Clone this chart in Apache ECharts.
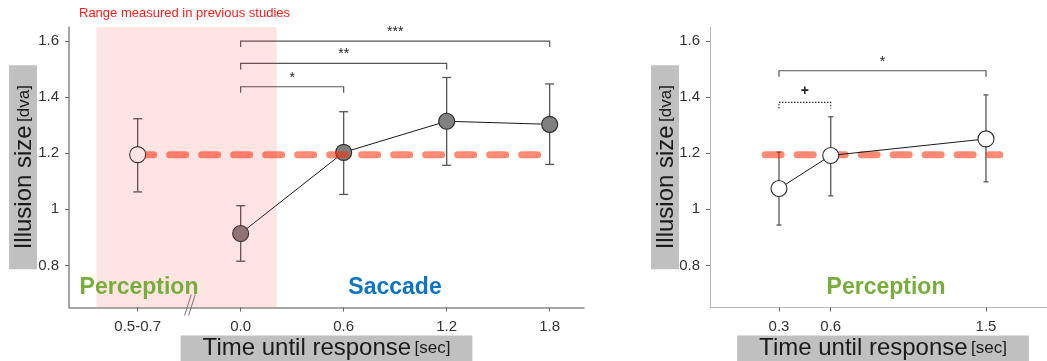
<!DOCTYPE html>
<html><head><meta charset="utf-8">
<script src="https://cdn.jsdelivr.net/npm/echarts@6/dist/echarts.min.js"></script>
<style>html,body{margin:0;padding:0;background:#fff}#c{width:1047px;height:361px}</style>
</head><body><div id="c"></div>
<script>
// ---- data ----
const yTickValues = [0.8, 1, 1.2, 1.4, 1.6];
const yTickLabels = ['0.8', '1', '1.2', '1.4', '1.6'];

const leftTickValues = [-0.6, 0, 0.6, 1.2, 1.8];
const leftTickLabels = ['0.5-0.7', '0.0', '0.6', '1.2', '1.8'];
const leftMean  = [1.195, 0.914, 1.203, 1.314, 1.303];
const leftUpper = [1.323, 1.013, 1.348, 1.470, 1.447];
const leftLower = [1.062, 0.815, 1.053, 1.157, 1.160];

const rightTickValues = [0.3, 0.6, 1.5];
const rightTickLabels = ['0.3', '0.6', '1.5'];
const rightMean  = [1.074, 1.192, 1.251];
const rightUpper = [1.204, 1.330, 1.408];
const rightLower = [0.944, 1.048, 1.098];

const baselineValue = 1.195;
const leftBaselineSpan = [-0.6, 1.8];
const rightBaselineSpan = [0.22, 1.58];
const previousRange = [-0.84, 0.21];
const breakAt = -0.3;

const leftSigFrom = [0, 0, 0];
const leftSigTo   = [0.6, 1.2, 1.8];
const leftSigY    = [1.437, 1.52, 1.60];
const leftSigText = ['*', '**', '***'];

const rightSigFrom = [0.3, 0.3];
const rightSigTo   = [0.6, 1.5];
const rightSigY    = [1.381, 1.494];
const rightSigText = ['+', '*'];
const rightSigDotted = [true, false];

// ---- rendering ----
const FONT = "'Liberation Sans', Arial, Helvetica, sans-serif";
const chart = echarts.init(document.getElementById('c'), null, {renderer: 'canvas'});

function errorBarRender(capHalf) {
  return function (params, api) {
    const x = api.value(0), lo = api.value(1), hi = api.value(2);
    const a = api.coord([x, hi]), b = api.coord([x, lo]);
    const s = {stroke: '#555', lineWidth: 1.3};
    return {type: 'group', children: [
      {type: 'line', shape: {x1: a[0], y1: a[1], x2: b[0], y2: b[1]}, style: s},
      {type: 'line', shape: {x1: a[0] - capHalf, y1: a[1], x2: a[0] + capHalf, y2: a[1]}, style: s},
      {type: 'line', shape: {x1: b[0] - capHalf, y1: b[1], x2: b[0] + capHalf, y2: b[1]}, style: s}
    ]};
  };
}
function bracketRender(texts, dotted) {
  return function (params, api) {
    const a = api.coord([api.value(0), api.value(2)]);
    const b = api.coord([api.value(1), api.value(2)]);
    const t = 6;
    const isDot = dotted ? dotted[params.dataIndex] : false;
    const txt = texts[params.dataIndex];
    const star = txt.indexOf('*') >= 0;
    return {type: 'group', children: [
      {type: 'polyline', shape: {points: [[a[0], a[1] + t], [a[0], a[1]], [b[0], b[1]], [b[0], b[1] + t]]},
        style: {stroke: isDot ? '#333' : '#555', lineWidth: 1.2, fill: null, lineDash: isDot ? [1.5, 1.5] : null}},
      {type: 'text', style: {text: txt, x: (a[0] + b[0]) / 2, y: a[1] + (star ? -9 : -11),
        align: 'center', verticalAlign: 'middle', fontSize: 14, fontWeight: star ? 'normal' : 'bold',
        fill: '#222', fontFamily: FONT}}
    ]};
  };
}
function breakRender(params, api) {
  const p = api.coord([api.value(0), api.value(1)]);
  const s = {stroke: '#777', lineWidth: 1};
  const ch = [];
  [-2, 2].forEach(function (d) {
    ch.push({type: 'line', shape: {x1: p[0] + d + 4.1, y1: p[1] - 13, x2: p[0] + d - 2.6, y2: p[1] + 8}, style: s});
  });
  return {type: 'group', children: ch};
}

const yName = '{a|Illusion size} {b|[dva]}';
const xName = '{a|Time until response} {b|[sec]}';
const nameStyle = function (pad) {
  return {backgroundColor: '#c0c0c0', padding: pad, fontFamily: FONT,
    rich: {a: {fontSize: 24, lineHeight: 26, color: '#1a1a1a', fontFamily: FONT},
           b: {fontSize: 17, lineHeight: 26, color: '#1a1a1a', fontFamily: FONT}}};
};
function yAxisCfg(gridIndex, lineColor) {
  return {
    type: 'value', gridIndex: gridIndex, min: 0.65, max: 1.65,
    name: yName, nameLocation: 'middle', nameRotate: 90, nameGap: gridIndex === 0 ? 32 : 31,
    nameMoveOverlap: false,
    nameTextStyle: nameStyle([2, 20, 0, 20]),
    axisLine: {show: true, onZero: false, lineStyle: {color: lineColor, width: gridIndex === 0 ? 1.5 : 1}},
    axisTick: {show: true, length: 4, customValues: yTickValues, lineStyle: {color: '#666'}},
    axisLabel: {customValues: yTickValues, margin: 10, fontSize: 15, color: '#333', fontFamily: FONT,
      formatter: function (v) { const i = yTickValues.findIndex(function (t) { return Math.abs(t - v) < 1e-6; }); return i >= 0 ? yTickLabels[i] : ''; }},
    splitLine: {show: false}
  };
}
function xAxisCfg(gridIndex, min, max, vals, labels, lineColor) {
  return {
    type: 'value', gridIndex: gridIndex, min: min, max: max,
    name: xName, nameLocation: 'middle', nameGap: 28,
    nameMoveOverlap: false,
    nameTextStyle: nameStyle([0, 22, 4, 22]),
    axisLine: {show: true, onZero: false, lineStyle: {color: lineColor, width: gridIndex === 0 ? 1.5 : 1}},
    axisTick: {show: true, length: 4, customValues: vals, lineStyle: {color: '#666'}},
    axisLabel: {customValues: vals, margin: 12, fontSize: 15, color: '#333', fontFamily: FONT,
      formatter: function (v) { const i = vals.findIndex(function (t) { return Math.abs(t - v) < 1e-6; }); return i >= 0 ? labels[i] : ''; }},
    splitLine: {show: false}
  };
}

const leftErr = leftTickValues.map(function (x, i) { return [x, leftLower[i], leftUpper[i]]; });
const rightErr = rightTickValues.map(function (x, i) { return [x, rightLower[i], rightUpper[i]]; });
const leftConnected = leftTickValues.slice(1).map(function (x, i) { return [x, leftMean[i + 1]]; });
const leftSeparate = [[leftTickValues[0], leftMean[0]]];
const rightPts = rightTickValues.map(function (x, i) { return [x, rightMean[i]]; });
const leftSig = leftSigFrom.map(function (f, i) { return [f, leftSigTo[i], leftSigY[i]]; });
const rightSig = rightSigFrom.map(function (f, i) { return [f, rightSigTo[i], rightSigY[i]]; });
const dashStyle = {width: 7, type: [16, 16], cap: 'round', color: 'rgba(255,40,0,0.55)'};

const option = {
  animation: false,
  backgroundColor: '#fff',
  grid: [
    {left: 69, top: 27, width: 515, height: 280.5, containLabel: false, outerBoundsMode: 'none'},
    {left: 710, top: 27, width: 346, height: 280.5, containLabel: false, outerBoundsMode: 'none'}
  ],
  xAxis: [
    xAxisCfg(0, -1.0, 2.0, leftTickValues, leftTickLabels, '#8a8a8a'),
    xAxisCfg(1, -0.1, 1.906, rightTickValues, rightTickLabels, '#b8b8b8')
  ],
  yAxis: [yAxisCfg(0, '#8a8a8a'), yAxisCfg(1, '#b8b8b8')],
  graphic: [
    {type: 'text', left: 79, top: 7, z: 100, style: {text: 'Range measured in previous studies', fontSize: 13, fill: '#ff1a1a', fontFamily: FONT}},
    {type: 'text', x: 139, y: 288, z: 100, style: {text: 'Perception', fontSize: 23, fontWeight: 'bold', fill: '#77ae3a', fontFamily: FONT, align: 'center', verticalAlign: 'middle'}},
    {type: 'text', x: 395, y: 288, z: 100, style: {text: 'Saccade', fontSize: 23, fontWeight: 'bold', fill: '#0b74c4', fontFamily: FONT, align: 'center', verticalAlign: 'middle'}},
    {type: 'text', x: 886, y: 288, z: 100, style: {text: 'Perception', fontSize: 23, fontWeight: 'bold', fill: '#77ae3a', fontFamily: FONT, align: 'center', verticalAlign: 'middle'}}
  ],
  series: [
    {type: 'custom', xAxisIndex: 0, yAxisIndex: 0, z: 2, data: leftErr, renderItem: errorBarRender(4.5), encode: {x: 0, y: [1, 2]}, silent: true},
    {type: 'line', xAxisIndex: 0, yAxisIndex: 0, z: 3, data: leftConnected, symbol: 'circle', symbolSize: 16,
      itemStyle: {color: '#808080', borderColor: '#2a2a2a', borderWidth: 1.1}, lineStyle: {color: '#1a1a1a', width: 1}, silent: true},
    {type: 'line', xAxisIndex: 0, yAxisIndex: 0, z: 4, data: [[leftBaselineSpan[0], baselineValue], [leftBaselineSpan[1], baselineValue]],
      symbol: 'none', lineStyle: dashStyle, silent: true},
    {type: 'scatter', xAxisIndex: 0, yAxisIndex: 0, z: 5, data: leftSeparate, symbol: 'circle', symbolSize: 16,
      itemStyle: {color: '#fff', borderColor: '#2a2a2a', borderWidth: 1.1, opacity: 1}, silent: true},
    {type: 'custom', xAxisIndex: 0, yAxisIndex: 0, z: 5, data: leftSig, renderItem: bracketRender(leftSigText, null), silent: true},
    {type: 'custom', xAxisIndex: 0, yAxisIndex: 0, z: 5, data: [[breakAt, 0.65]], renderItem: breakRender, silent: true},
    {type: 'line', xAxisIndex: 0, yAxisIndex: 0, z: 10, data: [], silent: true,
      markArea: {silent: true, z: 20, itemStyle: {color: 'rgba(255,30,30,0.12)'}, data: [[{xAxis: previousRange[0]}, {xAxis: previousRange[1]}]]}},

    {type: 'custom', xAxisIndex: 1, yAxisIndex: 1, z: 2, data: rightErr, renderItem: errorBarRender(2.5), encode: {x: 0, y: [1, 2]}, silent: true},
    {type: 'line', xAxisIndex: 1, yAxisIndex: 1, z: 3, data: [[rightBaselineSpan[0], baselineValue], [rightBaselineSpan[1], baselineValue]],
      symbol: 'none', lineStyle: dashStyle, silent: true},
    {type: 'line', xAxisIndex: 1, yAxisIndex: 1, z: 5, data: rightPts, symbol: 'circle', symbolSize: 16,
      itemStyle: {color: '#fff', borderColor: '#2a2a2a', borderWidth: 1.1}, lineStyle: {color: '#1a1a1a', width: 1}, silent: true},
    {type: 'custom', xAxisIndex: 1, yAxisIndex: 1, z: 5, data: rightSig, renderItem: bracketRender(rightSigText, rightSigDotted), silent: true}
  ]
};
chart.setOption(option);
</script>
</body></html>
